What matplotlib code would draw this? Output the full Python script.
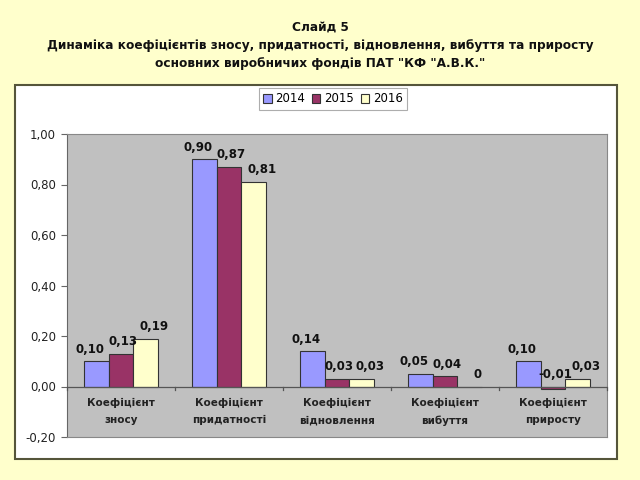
import matplotlib
matplotlib.use("Agg")
import matplotlib.pyplot as plt
from matplotlib.patches import Rectangle
from matplotlib import font_manager
import numpy as np

categories = ["Коефіцієнт\nзносу", "Коефіцієнт\nпридатності", "Коефіцієнт\nвідновлення",
              "Коефіцієнт\nвибуття", "Коефіцієнт\nприросту"]
years = ["2014", "2015", "2016"]
v2014 = [0.10, 0.90, 0.14, 0.05, 0.10]
v2015 = [0.13, 0.87, 0.03, 0.04, -0.01]
v2016 = [0.19, 0.81, 0.03, 0.0, 0.03]
labels2014 = ["0,10", "0,90", "0,14", "0,05", "0,10"]
labels2015 = ["0,13", "0,87", "0,03", "0,04", "-0,01"]
labels2016 = ["0,19", "0,81", "0,03", "0", "0,03"]
yticks = [-0.2, 0.0, 0.2, 0.4, 0.6, 0.8, 1.0]
ytick_labels = ["-0,20", "0,00", "0,20", "0,40", "0,60", "0,80", "1,00"]
title_lines = ["Слайд 5",
               "Динаміка коефіцієнтів зносу, придатності, відновлення, вибуття та приросту",
               "основних виробничих фондів ПАТ \"КФ \"А.В.К.\""]

colors = ["#9999FF", "#993366", "#FFFFCC"]
label_dx = [-6, 2, 8]   # horizontal nudge of value labels per series (points)
bg = "#FFFFCC"

cond = font_manager.FontProperties(family="DejaVu Sans", stretch="condensed",
                                   weight="bold", size=9.7)

fig = plt.figure(figsize=(6.4, 4.8), dpi=100, facecolor=bg)

# white chart frame
fig.patches.append(Rectangle((15/640, 1-459/480), (617-15)/640, (459-85)/480,
                             transform=fig.transFigure, facecolor="white",
                             edgecolor="#55553a", linewidth=1.5, zorder=-5))

for yy, t in zip([27, 46, 63], title_lines):
    fig.text(0.5, 1-yy/480, t, ha="center", va="center", fontproperties=cond,
             color="#111111")

ax = fig.add_axes([67/640, 1-437/480, (607-67)/640, (437-134)/480], zorder=2)
ax.set_facecolor("#C0C0C0")
x = np.arange(len(categories))
w = 0.23
series = [v2014, v2015, v2016]
lbls = [labels2014, labels2015, labels2016]
for i, (vals, lab) in enumerate(zip(series, lbls)):
    pos = x + (i - 1) * w
    ax.bar(pos, vals, w, color=colors[i], edgecolor="#333333", linewidth=0.8,
           label=years[i], zorder=3)
    for p, v, t in zip(pos, vals, lab):
        ax.annotate(t, (p, max(v, 0)), xytext=(label_dx[i] * 0.72, 4),
                    textcoords="offset points", ha="center", va="bottom",
                    fontsize=8.5, fontweight="bold", color="#111111", zorder=5)

ax.set_xlim(-0.5, len(categories) - 0.5)
ax.set_ylim(-0.2, 1.0)
ax.set_yticks(yticks)
ax.set_yticklabels(ytick_labels, fontsize=8.5, color="#222222")
ax.tick_params(axis="y", direction="out", length=4, color="#666666", pad=4)
ax.set_xticks([])
ax.axhline(0, color="#555555", linewidth=0.9, zorder=4)
for b in np.arange(-0.5, len(categories), 1.0):
    ax.plot([b, b], [0, -0.012], color="#555555", linewidth=0.9, zorder=4, clip_on=False)
for xi, c in zip(x, categories):
    ax.text(xi, -0.045, c, ha="center", va="top", fontsize=7.5, fontweight="bold",
            color="#222222", linespacing=1.9)
for s in ["top", "right", "bottom"]:
    ax.spines[s].set_color("#888888")
ax.spines["left"].set_color("#666666")

leg = fig.legend(loc="center", bbox_to_anchor=(333/640, 1-99/480), ncol=3, fontsize=8.5,
                 frameon=True, fancybox=False, edgecolor="#999999", handlelength=0.7,
                 handleheight=0.7, handletextpad=0.3, columnspacing=0.6, borderpad=0.35)
leg.get_frame().set_linewidth(0.8)
leg.set_zorder(10)

fig.savefig("out.png", dpi=100, facecolor=bg)
